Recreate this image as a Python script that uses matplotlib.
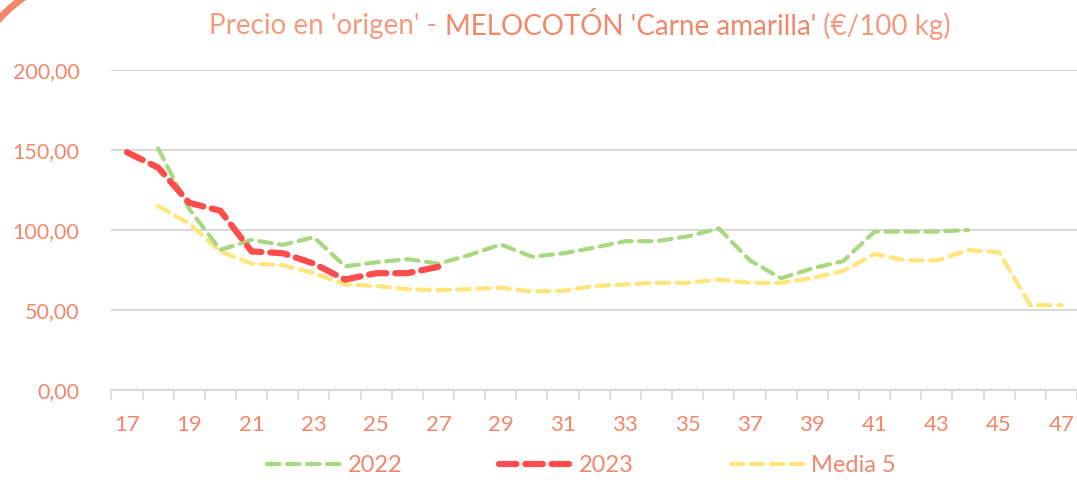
import matplotlib; matplotlib.use('Agg')
import matplotlib.pyplot as plt
import numpy as np
from matplotlib.patches import Arc

plt.rcParams['font.family'] = ['Lato', 'DejaVu Sans']
TXT = '#F4876A'; TXT_L = '#F59A7E'
GRID = '#D9D9D9'

semanas = list(range(17, 48))
v2022 = [None, 151, 113, 87.6, 93.8, 90.7, 95.5, 77.3, 79.8, 81.8, 79,
         84.4, 91, 83.3, 85.4, 89, 93, 93, 96, 101, 81, 69.8, 76, 80.6,
         99, 99, 99, 100, None, None, None]
v2023 = [148.6, 139, 117, 112, 86.6, 85.5, 79, 69, 73, 73, 77] + [None] * 20
media5 = [None, 115, 104, 86.6, 79, 78, 73, 66, 65, 63, 62.4,
          63, 64, 61.5, 62, 65, 66, 67, 67, 69, 67, 67, 70, 74.4,
          85, 81, 81, 87.5, 86, 53, 53]

def arr(v):
    return np.array([np.nan if x is None else x for x in v], dtype=float)

fig = plt.figure(figsize=(10.77, 4.8), dpi=100)
ax = fig.add_axes([111.4 / 1077, 90 / 480, (1077 - 111.4) / 1077, 320 / 480])
xs = np.arange(len(semanas))

ax.plot(xs, arr(v2022), color='#A9D883', lw=3, ls=(0, (3, 1.8)), dash_capstyle='round',
        label='2022', zorder=3)
ax.plot(xs, arr(v2023), color='#FF4D4D', lw=4.5, ls=(0, (2.8, 1.4)), dash_capstyle='round',
        label='2023', zorder=4)
ax.plot(xs, arr(media5), color='#FFE57A', lw=3, ls=(0, (3, 1.8)), dash_capstyle='round',
        label='Media 5', zorder=2)

ax.set_xlim(-0.5, len(semanas) - 0.5)
ax.set_ylim(0, 200)
ax.set_yticks([0, 50, 100, 150, 200])
ax.set_yticklabels(['0,00', '50,00', '100,00', '150,00', '200,00'])
ax.yaxis.grid(True, color=GRID, lw=1.5)
ax.set_axisbelow(True)
for s in ['top', 'right', 'left']:
    ax.spines[s].set_visible(False)
ax.spines['bottom'].set_color(GRID)
ax.spines['bottom'].set_linewidth(1.5)
ax.tick_params(axis='y', length=0, pad=23, labelsize=15.5, labelcolor=TXT)

ax.set_xticks(xs[::2])
ax.set_xticklabels([str(s) for s in semanas[::2]])
ax.set_xticks(np.arange(-0.5, len(semanas), 1), minor=True)
ax.tick_params(axis='x', which='major', length=0, pad=18, labelsize=16, labelcolor=TXT)
ax.tick_params(axis='x', which='minor', length=7, width=1.2, color=GRID, direction='out')

# titulo en tres trozos, centrado en conjunto
partes = [("Precio en 'origen' - ", TXT_L), ("MELOCOTÓN 'Carne amarilla'", TXT), (" (€/100 kg)", TXT_L)]
objs = [fig.text(0, 0.945, p, ha='left', va='center', fontsize=20, color=c) for p, c in partes]
fig.canvas.draw()
r = fig.canvas.get_renderer()
anchos = [o.get_window_extent(r).width for o in objs]
x = 580 - sum(anchos) / 2
for o, w in zip(objs, anchos):
    o.set_x(x / 1077)
    x += w

leg = fig.legend(loc='center', bbox_to_anchor=(0.54, 0.03), ncol=3, frameon=False,
                 fontsize=17, handlelength=3.1, columnspacing=4.1, handletextpad=0.3)
for tx in leg.get_texts():
    tx.set_color(TXT)

fig.add_artist(Arc((110, 360), 300, 300, theta1=90, theta2=180, lw=5, color=TXT,
                   transform=None))

plt.savefig('out.png', dpi=100, facecolor='white')
